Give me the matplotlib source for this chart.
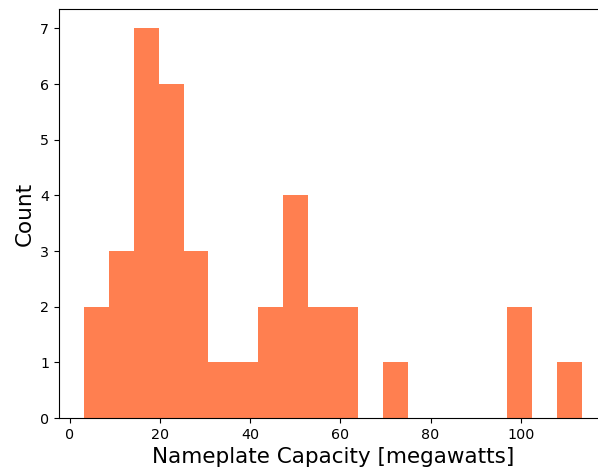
import numpy as np
import matplotlib
matplotlib.use("Agg")
import matplotlib.pyplot as plt

# histogram of nameplate capacity: 20 equal bins between min and max
cap_min = 3.15
cap_max = 113.6
n_bins = 20
counts = [2, 3, 7, 6, 3, 1, 1, 2, 4, 2, 2, 0, 1, 0, 0, 0, 0, 2, 0, 1]

edges = np.linspace(cap_min, cap_max, n_bins + 1)

fig = plt.figure(figsize=(5.98, 4.72), dpi=100)
# axes run slightly past the right edge of the canvas
ax = fig.add_axes([59 / 598, 1 - 418 / 472, 548 / 598, 409 / 472])

ax.hist(edges[:-1], bins=edges, weights=counts, histtype="stepfilled",
        color="coral")

pad = 0.05 * (cap_max - cap_min)
ax.set_xlim(cap_min - pad, cap_max + pad)
ax.set_ylim(0, max(counts) * 1.05)
ax.spines["right"].set_visible(False)

ax.set_xlabel("Nameplate Capacity [megawatts]", fontsize=15.5)
ax.set_ylabel("Count", fontsize=15.5)
ax.tick_params(labelsize=10.3)

fig.savefig("out.png", dpi=100)
